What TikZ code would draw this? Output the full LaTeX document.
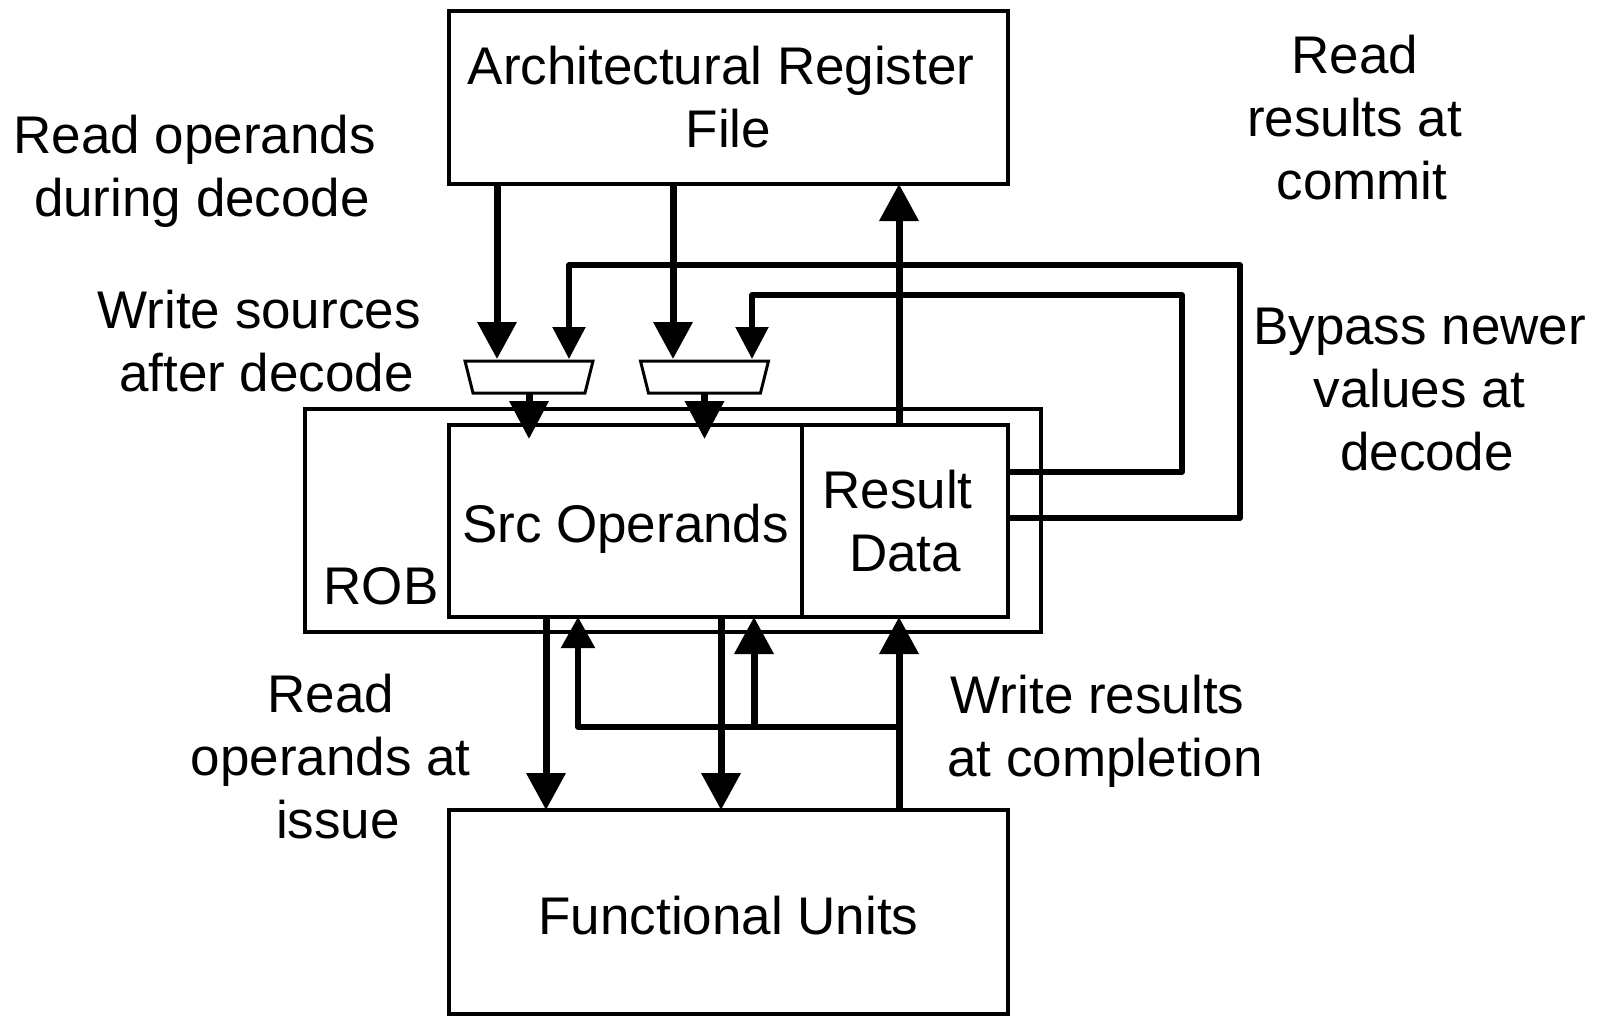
\documentclass[tikz,border=0pt]{standalone}
\usepackage{fontspec}
\setmainfont{Liberation Sans}
\usetikzlibrary{arrows.meta}
% trailing word space kept at the end of a wrapped line
\newcommand\trailsp{\hbox to 0.278em{}}
\begin{document}
\begin{tikzpicture}[x=1pt,y=-1pt,
  every node/.style={inner sep=0pt, outer sep=0pt},
  txt/.style={font=\fontsize{53pt}{63pt}\selectfont, align=center},
  blk/.style={draw, rectangle, line width=4pt, txt},
  muxshape/.style={draw, fill=white, line width=3pt, line join=miter},
  bigarrow/.style={line width=7pt, -{Triangle[length=37pt,width=38pt]}},
  muxarrow/.style={line width=7pt, -{Triangle[length=38pt,width=38pt]}},
  bypass/.style={line width=5.5pt, line join=round, -{Triangle[length=32pt,width=32pt]}},
  feed/.style={line width=5.5pt, line join=round, -{Triangle[length=31pt,width=33pt]}},
]
\useasboundingbox (0,0) rectangle (1603,1017);

% blocks
\node[blk, minimum width=559pt, minimum height=173pt] (arf) at (728.5,97.5)
  {Architectural Register\trailsp\\File};
\node[draw, rectangle, line width=4pt, minimum width=736pt, minimum height=223pt] (rob) at (673,520.5) {};
\node[blk, minimum width=353pt, minimum height=192pt, text height=42pt, text depth=0pt] (src) at (625.5,521) {Src Operands};
\node[blk, minimum width=206pt, minimum height=192pt] (res) at (905,521) {Result\trailsp\\Data};
\node[txt, anchor=base] (robtxt) at (381,604) {ROB};
\node[blk, minimum width=559pt, minimum height=204pt, text height=45pt, text depth=0pt] (fu) at (728.5,912) {Functional Units};

% operand select muxes (wide side up)
\coordinate (mux1) at (529,377);
\coordinate (mux2) at (704.5,377);
\foreach \m in {mux1,mux2}
  \draw[muxshape, shift={(\m)}] (-64,-16) -- (64,-16) -- (56,16) -- (-56,16) -- cycle;

% wire columns and rows
\coordinate (cA) at (497,0);
\coordinate (cB) at (569,0);
\coordinate (cC) at (673,0);
\coordinate (cD) at (752,0);
\coordinate (cE) at (899,0);
\coordinate (dA) at (546,0);
\coordinate (uA) at (578,0);
\coordinate (dB) at (721,0);
\coordinate (uB) at (754,0);
\coordinate (muxin) at (0,359);
\coordinate (muxout) at (0,393);
\coordinate (robin) at (0,439);
\coordinate (hbar) at (0,727);
\coordinate (byO) at (1240,265);
\coordinate (byI) at (1182,295);
\coordinate (rO) at (0,518);
\coordinate (rI) at (0,472);

% register file reads
\draw[bigarrow] (arf.south -| cA) -- (cA |- muxin);
\draw[bigarrow] (arf.south -| cC) -- (cC |- muxin);

% bypass paths from result data
\draw[bypass] (res.east |- rO) -| (byO) -| (cB |- muxin);
\draw[bypass] (res.east |- rI) -| (byI) -| (cD |- muxin);

% mux outputs into the ROB
\draw[muxarrow] (mux1 |- muxout) -- (mux1 |- robin);
\draw[muxarrow] (mux2 |- muxout) -- (mux2 |- robin);

% issue and completion
\draw[bigarrow] (src.south -| dA) -- (fu.north -| dA);
\draw[bigarrow] (src.south -| dB) -- (fu.north -| dB);
\draw[bigarrow] (fu.north -| cE) -- (res.south -| cE);
\draw[feed] (cE |- hbar) -| (src.south -| uA);
\draw[bigarrow] (uB |- hbar) -- (src.south -| uB);

% commit
\draw[bigarrow] (res.north -| cE) -- (arf.south -| cE);

% labels
\node[txt] (lblA) at (202,171) {Read operands\trailsp\\during decode};
\node[txt] (lblB) at (266.5,341.5) {Write sources\trailsp\\after decode};
\node[txt] (lblC) at (1362,118) {Read\trailsp\\results at\trailsp\\commit};
\node[txt] (lblD) at (1427,390) {Bypass newer\trailsp\\values at\trailsp\\decode};
\node[txt] (lblE) at (338,757) {Read\trailsp\\operands at\trailsp\\issue};
\node[txt] (lblF) at (1105,731) {Write results\trailsp\\at completion};
\end{tikzpicture}
\end{document}
